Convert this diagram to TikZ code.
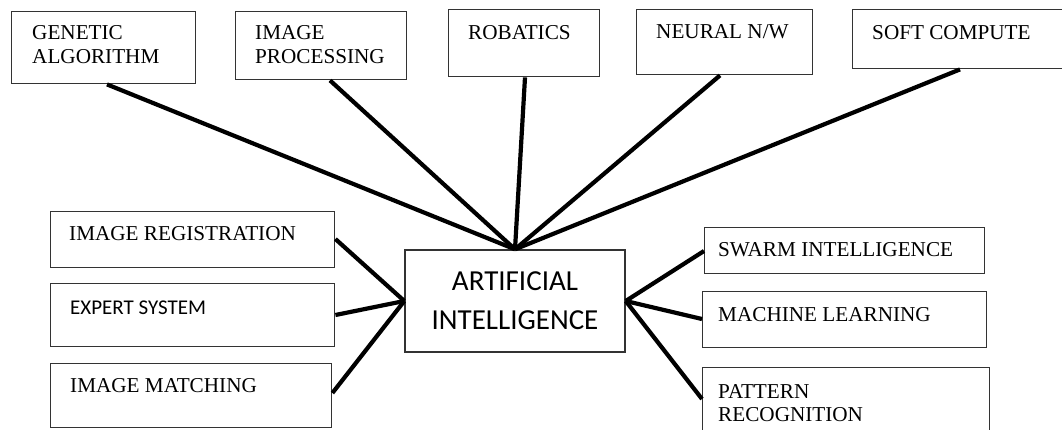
\documentclass[tikz,border=0pt]{standalone}
\usepackage{fontspec}
\setmainfont{Liberation Serif}
\newfontfamily\calib{Carlito}
\usetikzlibrary{calc}
\definecolor{edgegray}{gray}{0.2}
\tikzset{
  box/.style={draw=edgegray, line width=1.4pt, rectangle, anchor=north west, inner sep=0pt},
  lbl/.style={anchor=west, align=left, inner sep=0pt, font=\fontsize{21.2}{23.5}\selectfont},
  sanslbl/.style={anchor=west, align=left, inner sep=0pt, font=\calib\fontsize{21}{25}\selectfont},
  hub/.style={draw=edgegray, line width=1.4pt, rectangle, inner sep=0pt, align=center,
    font=\calib\fontsize{29}{39}\selectfont},
  link/.style={line width=4.2pt, black, line cap=butt}
}
\begin{document}
\begin{tikzpicture}[x=1pt, y=-1pt]
\clip (0,0) rectangle (1062,429);
\fill[white] (0,0) rectangle (1062,429);

% central node
\node[hub, minimum width=220pt, minimum height=102pt] (ai) at (515,301) {ARTIFICIAL\\INTELLIGENCE};

% top row
\node[box, minimum width=184pt, minimum height=72pt] (ga) at (11,11) {};
\node[lbl] (gat) at (32,44.5) {GENETIC\\ALGORITHM};
\node[box, minimum width=171pt, minimum height=68pt] (ip) at (235,11) {};
\node[lbl] (ipt) at (255,44.5) {IMAGE\\PROCESSING};
\node[box, minimum width=151pt, minimum height=67pt] (ro) at (448,9) {};
\node[lbl] (rot) at (468,33) {ROBATICS};
\node[box, minimum width=176pt, minimum height=65pt] (nn) at (636,9) {};
\node[lbl] (nnt) at (656,32) {NEURAL N/W};
\node[box, minimum width=230pt, minimum height=59pt] (sc) at (852,9) {};
\node[lbl] (sct) at (872,33) {SOFT COMPUTE};

% left column
\node[box, minimum width=284pt, minimum height=56pt] (ir) at (50,211) {};
\node[lbl] (irt) at (69,234) {IMAGE REGISTRATION};
\node[box, minimum width=284pt, minimum height=63pt] (es) at (50,283) {};
\node[sanslbl] (est) at (70,308) {EXPERT SYSTEM};
\node[box, minimum width=281pt, minimum height=64pt] (im) at (50,363) {};
\node[lbl] (imt) at (70,386) {IMAGE MATCHING};

% right column
\node[box, minimum width=280pt, minimum height=46pt] (sw) at (704,227) {};
\node[lbl] (swt) at (718,250) {SWARM INTELLIGENCE};
\node[box, minimum width=284pt, minimum height=56pt] (ml) at (702,291) {};
\node[lbl] (mlt) at (718,315) {MACHINE LEARNING};
\node[box, minimum width=287pt, minimum height=90pt] (pr) at (702,367) {};
\node[lbl] (prt) at (718,403) {PATTERN\\RECOGNITION};

% connectors to the top of the hub
\coordinate (apex) at (ai.north);
\draw[link] ($(ga.south west)+(96,0)$) -- (apex);
\draw[link] ($(ip.south west)+(95,0)$) -- (apex);
\draw[link] ($(ro.south west)+(77,0)$) -- (apex);
\draw[link] ($(nn.south west)+(84,0)$) -- (apex);
\draw[link] ($(sc.south west)+(108,0)$) -- (apex);

% connectors to the sides of the hub
\draw[link] ($(ir.north east)+(0,28)$) -- (ai.west);
\draw[link] ($(es.north east)+(0,32)$) -- (ai.west);
\draw[link] ($(im.north east)+(0,30)$) -- (ai.west);
\draw[link] ($(sw.north west)+(0,24)$) -- (ai.east);
\draw[link] ($(ml.north west)+(0,28)$) -- (ai.east);
\draw[link] ($(pr.north west)+(0,32)$) -- (ai.east);
\end{tikzpicture}
\end{document}
